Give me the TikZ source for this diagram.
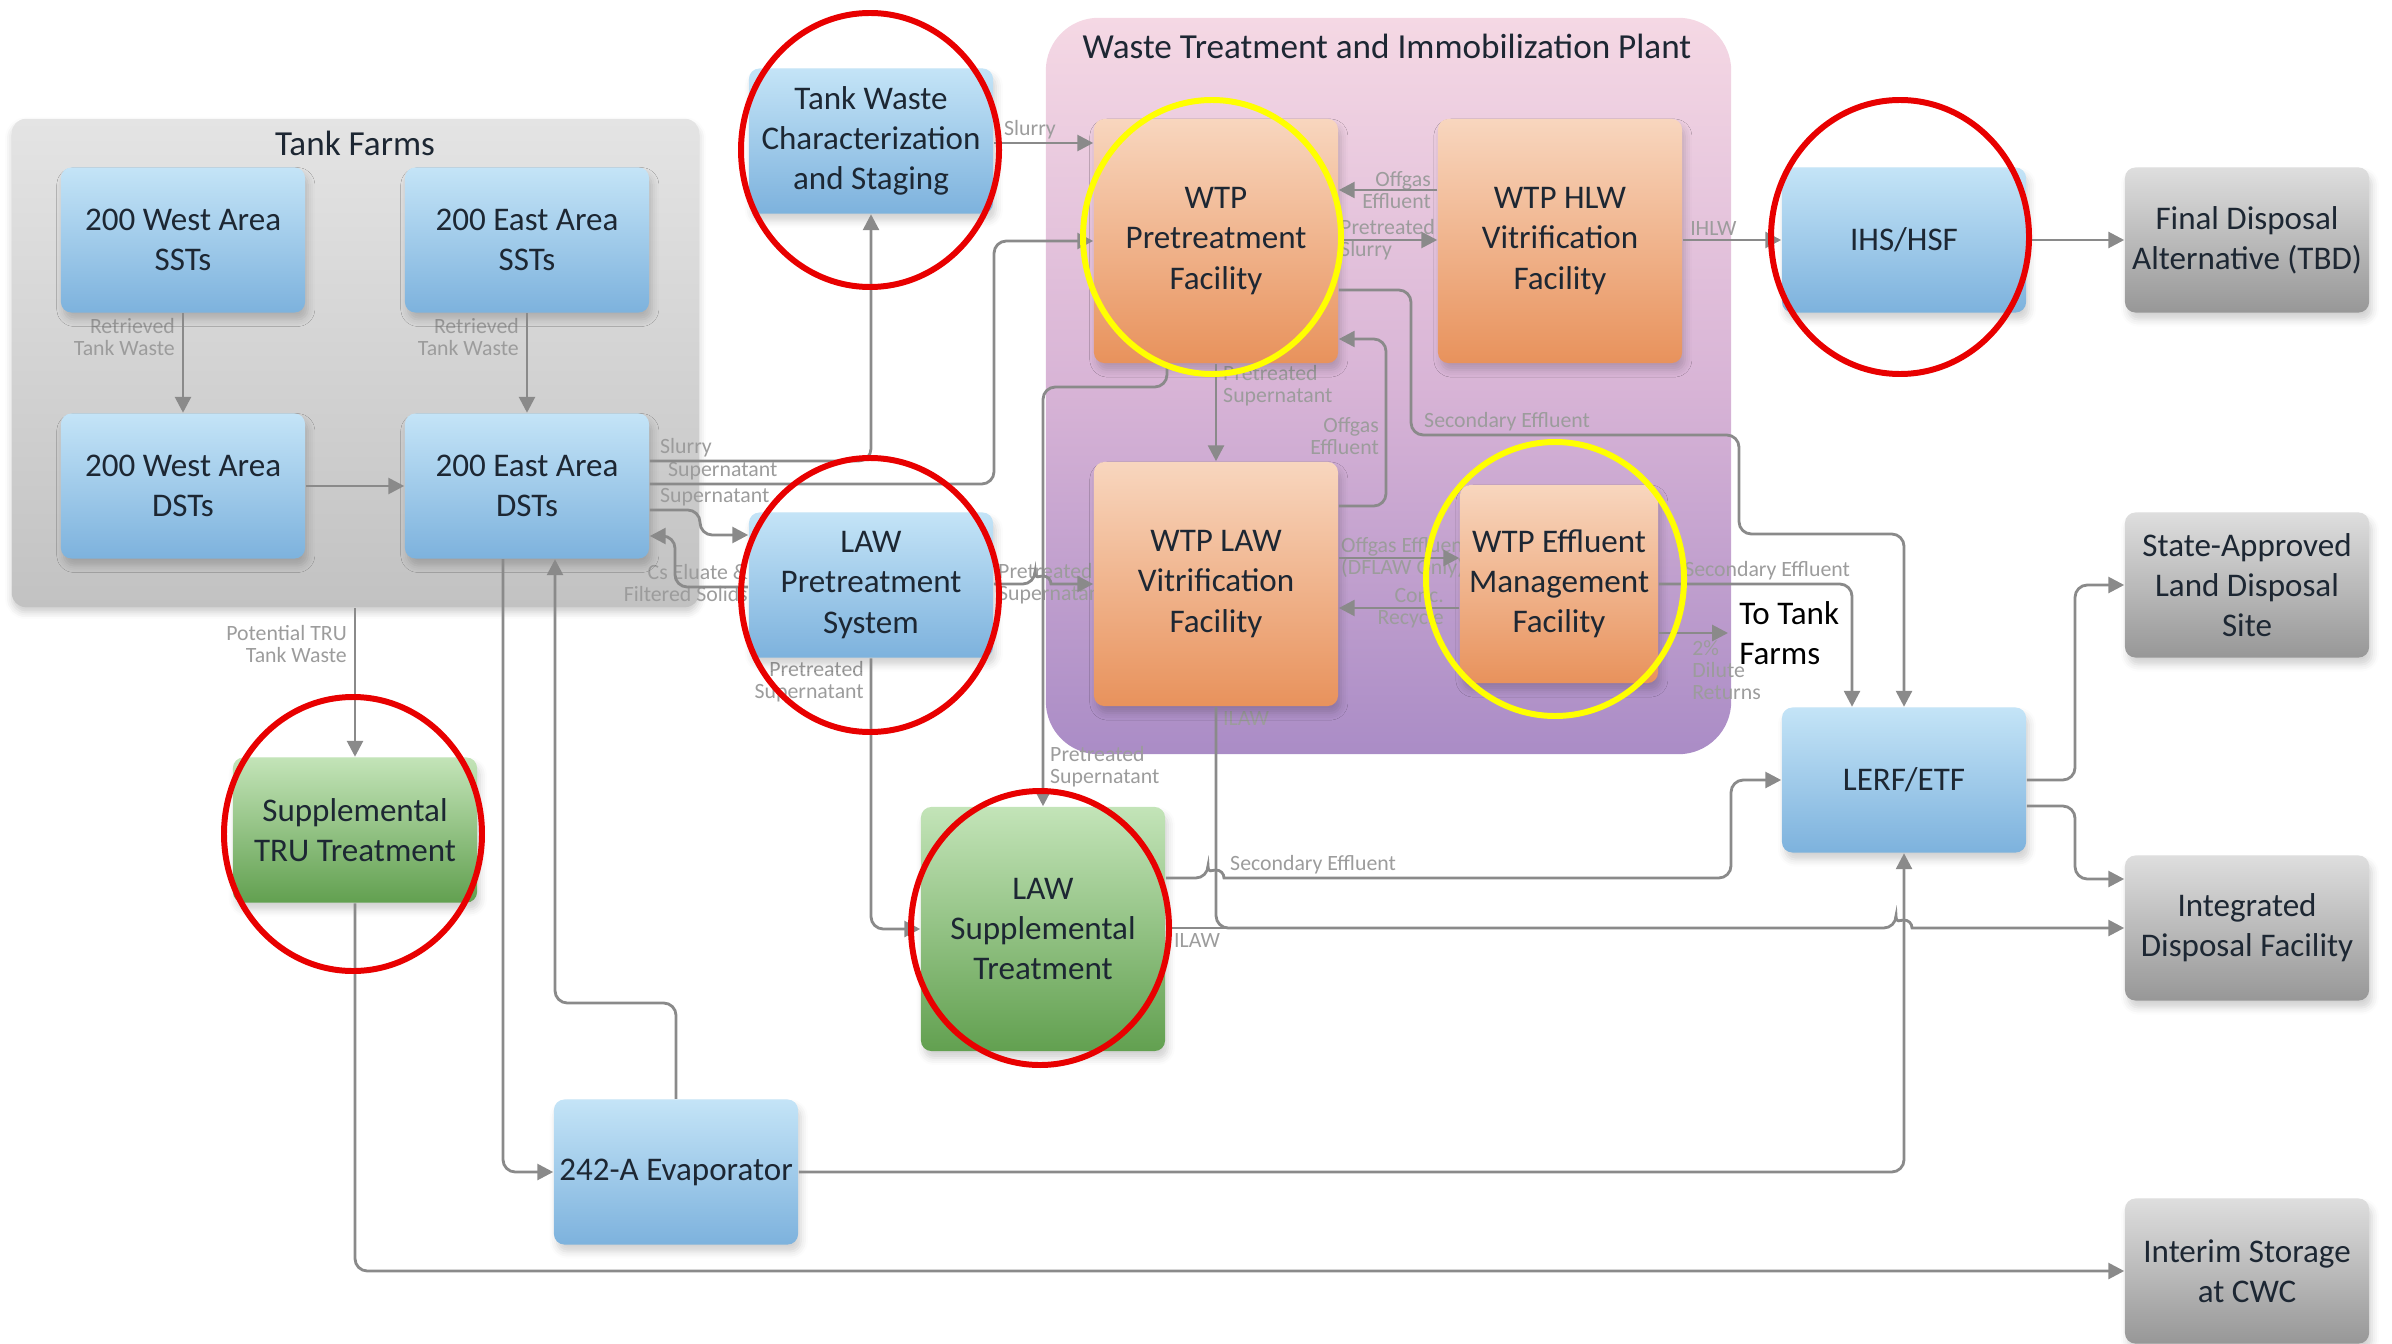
\documentclass[tikz,border=0pt]{standalone}
\usepackage{fontspec}
\setmainfont{Carlito}
\usepackage{xcolor}
\usetikzlibrary{calc}
\usetikzlibrary{arrows.meta}
\usetikzlibrary{shadows.blur}

\definecolor{lncol}{HTML}{8A8A8A}
\definecolor{lbcol}{HTML}{9C9C9C}
\definecolor{txtcol}{HTML}{1D2733}
\definecolor{blutop}{HTML}{C4E4F7}
\definecolor{blubot}{HTML}{7DB2DD}
\definecolor{oratop}{HTML}{F8D6BE}
\definecolor{orabot}{HTML}{E8925C}
\definecolor{grntop}{HTML}{C3E4B8}
\definecolor{grnbot}{HTML}{62A050}
\definecolor{grytop}{HTML}{DEDEDE}
\definecolor{grybot}{HTML}{979797}
\definecolor{tftop}{HTML}{E4E4E4}
\definecolor{tfbot}{HTML}{C2C2C2}
\definecolor{wtptop}{HTML}{F5D8E4}
\definecolor{wtpmid}{HTML}{D8B4D6}
\definecolor{wtpbot}{HTML}{AA8CC6}
\definecolor{ringred}{HTML}{E80000}
\definecolor{ringyel}{HTML}{FFFF00}

\newcommand\bxfont{\fontsize{9.4}{11.4}\selectfont}
\newcommand\lbfont{\fontsize{6.2}{6.3}\selectfont}
\newcommand\hdfont{\fontsize{10}{12}\selectfont}

\begin{document}
\begin{tikzpicture}[x=0.01cm,y=-0.01cm]
% 1 unit = 1 px of the 2392 x 1343 sheet, y downwards
    \def\BW{2.44cm} %width of boxes
    \def\BH{1.45cm} %height of short boxes
    \def\TH{2.44cm} %height of tall boxes
    \def\HOP{8} %radius of line jumps

    \tikzset{
      box/.style={rounded corners=3pt, minimum width=\BW, minimum height=\BH,
        align=center, font=\bxfont, text=txtcol, inner sep=1pt,
        blur shadow={shadow xshift=0.8pt,shadow yshift=-2pt,
          shadow blur radius=2pt,shadow opacity=18}},
      blubox/.style={box, top color=blutop, bottom color=blubot},
      orabox/.style={box, top color=oratop, bottom color=orabot},
      grnbox/.style={box, top color=grntop, bottom color=grnbot},
      grybox/.style={box, top color=grytop, bottom color=grybot},
      tallbox/.style={minimum height=\TH},
      flow/.style={draw=lncol, line width=0.8pt, rounded corners=3.5pt,
        -{Triangle[length=4.5pt,width=4.5pt]}},
      link/.style={draw=lncol, line width=0.8pt, rounded corners=3.5pt},
      lbl/.style={font=\lbfont, text=lbcol, inner sep=1pt},
      hop/.style={insert path={[sharp corners]
          arc[start angle=180,end angle=360,radius=\HOP] [rounded corners=3.5pt]}},
      redring/.style={draw=ringred, line width=1.7pt},
      yelring/.style={draw=ringyel, line width=1.7pt},
    }

    \useasboundingbox (0,0) rectangle (2392,1343);

    % AREAS
    \node[rounded corners=4pt, minimum width=6.87cm, minimum height=4.88cm,
        top color=tftop, bottom color=tfbot,
        blur shadow={shadow xshift=0pt,shadow yshift=-1.5pt,shadow opacity=20}]
        (tf) at (355.5,363) {};
    \node[font=\hdfont, text=txtcol] (tftitle) at (355,143) {Tank Farms};
    \node[rounded corners=15pt, minimum width=6.85cm, minimum height=7.36cm,
        top color=wtptop, bottom color=wtpbot, middle color=wtpmid]
        (wtp) at (1388.5,386) {};
    \node[font=\hdfont, text=txtcol] (wtptitle) at (1387,46)
        {Waste Treatment and Immobilization Plant};

    % LABELS
    \node[lbl, anchor=east, align=right] (lbrtw) at (179,337) {Retrieved\\Tank Waste};
    \node[lbl, anchor=east, align=right] (lbrte) at (523,337) {Retrieved\\Tank Waste};
    \node[lbl, anchor=south west] (lbslr) at (656,461) {Slurry};
    \node[lbl, anchor=south west] (lbsupa) at (664,484) {Supernatant};
    \node[lbl, anchor=south west] (lbsupb) at (656,510) {Supernatant};
    \node[lbl, anchor=east, align=right] (lbcs) at (752,583) {Cs Eluate \&\\Filtered Solids};
    \node[lbl, anchor=south west] (lbslrb) at (1000,143) {Slurry};
    \node[lbl, anchor=east, align=right] (lboffa) at (1435,190) {Offgas\\Effluent};
    \node[lbl, anchor=west, align=left] (lbpsl) at (1336,240) {Pretreated\\Slurry};
    \node[lbl, anchor=south west] (lbihlw) at (1686,240) {IHLW};
    \node[lbl, anchor=west, align=left] (lbpsa) at (1219,386) {Pretreated\\Supernatant};
    \node[lbl, anchor=east, align=right] (lboffb) at (1383,436) {Offgas\\Effluent};
    \node[lbl, anchor=south west] (lbseca) at (1420,435) {Secondary Effluent};
    \node[lbl, anchor=west, align=left] (lboffd) at (1337,558) {Offgas Effluent\\(DFLAW Only)};
    \node[lbl, anchor=east, align=right] (lbconc) at (1448,608) {Conc.\\Recycle};
    \node[lbl, anchor=south west] (lbsecb) at (1680,584) {Secondary Effluent};
    \node[lbl, anchor=west, align=left] (lbdil) at (1688,670) {2\%\\Dilute\\Returns};
    \node[lbl, anchor=west] (lbilaw) at (1219,718) {ILAW};
    \node[lbl, anchor=west] (lbilawb) at (1170,940) {ILAW};
    \node[lbl, anchor=south west] (lbsecc) at (1226,878) {Secondary Effluent};
    \node[lbl, anchor=west, align=left] (lbpsb) at (994,584) {Pretreated\\Supernatant};
    \node[lbl, anchor=east, align=right] (lbpsc) at (868,682) {Pretreated\\Supernatant};
    \node[lbl, anchor=west, align=left] (lbpsd) at (1046,767) {Pretreated\\Supernatant};
    \node[lbl, anchor=east, align=right] (lbtru) at (351,644) {Potential TRU\\Tank Waste};

    % BOXES
    \node[blubox] (wsst) at (183,240) {200 West Area\\SSTs};
    \node[blubox] (esst) at (527,240) {200 East Area\\SSTs};
    \node[blubox] (wdst) at (183,486) {200 West Area\\DSTs};
    \node[blubox] (edst) at (527,486) {200 East Area\\DSTs};
    \node[blubox] (twcs) at (871,141) {Tank Waste\\Characterization\\and Staging};
    \node[blubox] (lawps) at (871,585) {LAW\\Pretreatment\\System};
    \node[orabox,tallbox] (ptf) at (1216,241) {WTP\\Pretreatment\\Facility};
    \node[orabox,tallbox] (hlw) at (1560,241) {WTP HLW\\Vitrification\\Facility};
    \node[orabox,tallbox] (lawv) at (1216,584) {WTP LAW\\Vitrification\\Facility};
    \node[orabox, minimum width=1.98cm, minimum height=1.98cm] (emf) at (1559,584)
        {WTP Effluent\\Management\\Facility};
    \node[blubox] (ihs) at (1904,240) {IHS/HSF};
    \node[grybox] (fda) at (2247,240) {Final Disposal\\Alternative (TBD)};
    \node[grybox] (sald) at (2247,585) {State-Approved\\Land Disposal\\Site};
    \node[blubox] (lerf) at (1904,780) {LERF/ETF};
    \node[grybox] (idf) at (2247,928) {Integrated\\Disposal Facility};
    \node[grybox] (cwc) at (2247,1271) {Interim Storage\\at CWC};
    \node[grnbox] (stru) at (355,830) {Supplemental\\TRU Treatment};
    \node[grnbox,tallbox] (lawst) at (1043,929) {LAW\\Supplemental\\Treatment};
    \node[blubox] (evap) at (676,1172) {242-A Evaporator};
    \node[font=\bxfont, text=black, anchor=west, align=left, inner sep=3pt]
        (ttf) at (1728,633) {To Tank\\Farms};

    % TANK FARMS FLOWS
    \draw[flow] (wsst) -- (wdst);
    \draw[flow] (esst) -- (edst);
    \draw[flow] (wdst) -- (edst);
    \draw[flow] (edst.east |- 0,461) -| (twcs.south);
    \draw[flow] (edst.east |- 0,484) -- (994,484) |- (ptf.west);
    \draw[flow] (edst.east |- 0,510) -- (700,510) -- (700,535) -- (lawps.west |- 0,535);
    \draw[flow] (lawps.west |- 0,587) -- (675,587) -- (675,536) -- (edst.east |- 0,536);
    \draw[flow] (edst.south -| 503,0) |- (evap.west);
    \draw[flow] (evap.north) |- (555,1003) -- (edst.south -| 555,0);
    \draw[flow] (stru.north |- tf.south) -- (stru.north);
    \draw[flow] (stru.south) |- (cwc.west);

    % WTP FLOWS
    \draw[flow] (twcs.east |- 0,143) -- (ptf.west |- 0,143);
    \draw[flow] (hlw.west |- 0,190) -- (ptf.east |- 0,190);
    \draw[flow] (ptf.east |- 0,240) -- (hlw.west |- 0,240);
    \draw[flow] (hlw.east |- 0,240) -- (ihs.west);
    \draw[flow] (ihs) -- (fda);
    \draw[flow] (ptf) -- (lawv);
    \draw[flow] (lawv.east |- 0,506) -- (1386,506) |- (ptf.east |- 0,339);
    \draw[flow] (ptf.east |- 0,290) -| (1411,435) -| (1739,534) -| (lerf.north);
    \draw[flow] (lawv.east |- 0,558) -- (emf.west |- 0,558);
    \draw[flow] (emf.west |- 0,608) -- (lawv.east |- 0,608);
    \draw[flow] (emf.east) -| (lerf.north -| 1852,0);
    \draw[flow] (emf.east |- 0,633) -- (ttf.west);
    \draw[flow] (lawps.east |- 0,584) -- (1035,584) [hop] -- (lawv.west);
    \draw[flow] (lawps.south) |- (lawst.west);
    \draw[flow] (ptf.south -| 1167,0) |- (lawst.north |- 0,387) -- (lawst.north);

    % ILAW AND EFFLUENT FLOWS
    \draw[flow] (lawv.south) |- (1896,928) [hop] -- (idf.west |- 0,928);
    \draw[link] (lawst.east |- 0,928) -- (1230,928);
    \draw[flow] (lawst.east |- 0,878) -- (1208,878) [hop] -- (1731,878) |- (lerf.west);
    \draw[flow] (evap.east) -| (lerf.south);
    \draw[flow] (lerf.east) -- (2075,780) |- (sald.west);
    \draw[flow] (lerf.east |- 0,806) -- (2075,806) |- (idf.west |- 0,879);

    % MARKED FACILITIES
    \draw[redring] (870,150) ellipse [x radius=129, y radius=137];
    \draw[redring] (870,595) ellipse [x radius=129, y radius=137];
    \draw[redring] (1900,237) ellipse [x radius=129, y radius=137];
    \draw[redring] (353,834) ellipse [x radius=129, y radius=137];
    \draw[redring] (1040,928) ellipse [x radius=129, y radius=137];
    \draw[yelring] (1212,237) ellipse [x radius=129, y radius=137];
    \draw[yelring] (1555,579) ellipse [x radius=129, y radius=137];

\end{tikzpicture}
\end{document}
